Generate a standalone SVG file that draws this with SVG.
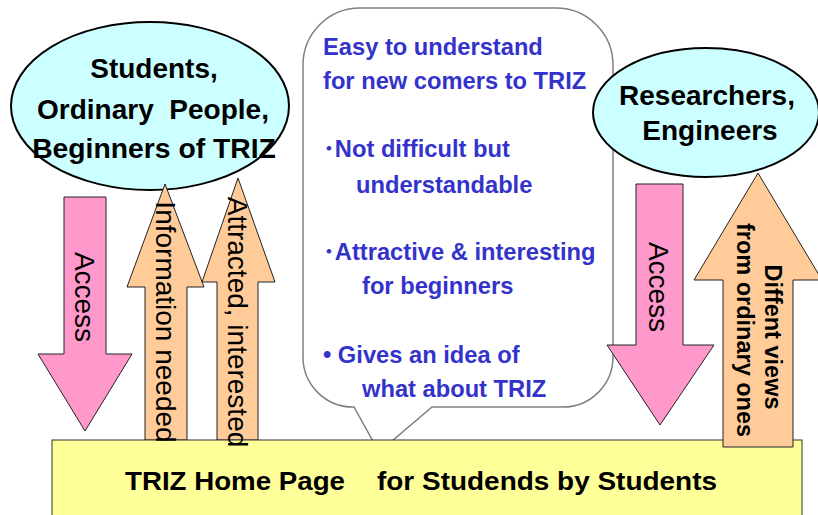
<svg xmlns="http://www.w3.org/2000/svg" width="818" height="515" viewBox="0 0 818 515">
<style>
.ell{fill:#CCFFFF;stroke:#000;stroke-width:2}
.pink{fill:#FF99CC;stroke:#222;stroke-width:1}
.orng{fill:#FFCC99;stroke:#222;stroke-width:1}
.bt{font-family:"Liberation Sans",Arial,sans-serif;font-weight:bold;fill:#000}
.vt{font-family:"Liberation Sans",Arial,sans-serif;fill:#000;font-size:28px;text-anchor:middle;dominant-baseline:central}
.blue{font-family:"Liberation Sans",Arial,"Noto Sans CJK JP",sans-serif;font-weight:bold;fill:#3333CC;font-size:23.7px}
</style>
<rect width="818" height="515" fill="#fff"/>
<g id="bubble">
<path d="M360,8 H556 A57,57 0 0 1 613,65 V357 A50,50 0 0 1 563,407 H432 L379,452 L354,407 H353 A50,50 0 0 1 303,357 V65 A57,57 0 0 1 360,8 Z" fill="#fff" stroke="#808080" stroke-width="1.5"/>
<text class="blue" x="323" y="55">Easy to understand</text>
<text class="blue" x="323" y="89">for new comers to TRIZ</text>
<text class="blue" x="323" y="157">･Not difficult but</text>
<text class="blue" x="356" y="193">understandable</text>
<text class="blue" x="323" y="260">･Attractive &amp; interesting</text>
<text class="blue" x="362" y="294">for beginners</text>
<text class="blue" x="323" y="363">• Gives an idea of</text>
<text class="blue" x="362" y="397">what about TRIZ</text>
</g>
<g id="students">
<ellipse class="ell" cx="150" cy="106" rx="139" ry="84"/>
<text class="bt" font-size="28" text-anchor="middle" x="154" y="78">Students,</text>
<text class="bt" font-size="28" text-anchor="middle" x="153" y="119" xml:space="preserve">Ordinary  People,</text>
<text class="bt" font-size="28.3" text-anchor="middle" x="154" y="158">Beginners of TRIZ</text>
</g>
<g id="researchers">
<ellipse class="ell" cx="706" cy="112.5" rx="113" ry="64.5"/>
<text class="bt" font-size="28" text-anchor="middle" x="707" y="105">Researchers,</text>
<text class="bt" font-size="28" text-anchor="middle" x="710" y="140">Engineers</text>
</g>
<g id="connectors">
<g id="access-left">
<polygon class="pink" points="64,197 106,197 106,354 132,354 85,431 38,354 64,354"/>
<text class="vt" transform="translate(84,297) rotate(90)">Access</text>
</g>
<g id="info-needed">
<polygon class="orng" points="145,440 145,287 127,287 165,184 204,287 187,287 187,440"/>
</g>
<g id="attracted">
<polygon class="orng" points="217,440 217,282 202,282 238,178 275,282 258,282 258,440"/>
</g>
<g id="access-right">
<polygon class="pink" points="636,184 683,184 683,345 714,345 660,425 607,345 636,345"/>
<text class="vt" transform="translate(658,287) rotate(90)">Access</text>
</g>
</g>
<g id="homepage">
<rect x="52" y="440" width="750" height="90" fill="#FFFF99" stroke="#333" stroke-width="1"/>
<text class="bt" font-size="26.5" x="125" y="490" textLength="220" lengthAdjust="spacingAndGlyphs">TRIZ Home Page</text>
<text class="bt" font-size="26.5" x="377" y="490" textLength="340" lengthAdjust="spacingAndGlyphs">for Studends by Students</text>
</g>
<g id="different-views">
<polygon class="orng" points="723,447 723,280 694,280 758,173 822,280 793,280 793,447"/>
<text class="bt" font-size="23.5" text-anchor="middle" dominant-baseline="central" transform="translate(773,337) rotate(90)">Diffent views</text>
<text class="bt" font-size="23.5" text-anchor="middle" dominant-baseline="central" transform="translate(745,330) rotate(90)">from ordinary ones</text>
</g>
<g id="labels">
<text class="vt" transform="translate(165,322) rotate(90)">Information needed</text>
<text class="vt" transform="translate(237,322) rotate(90)">Attracted, interested</text>
</g>
</svg>
